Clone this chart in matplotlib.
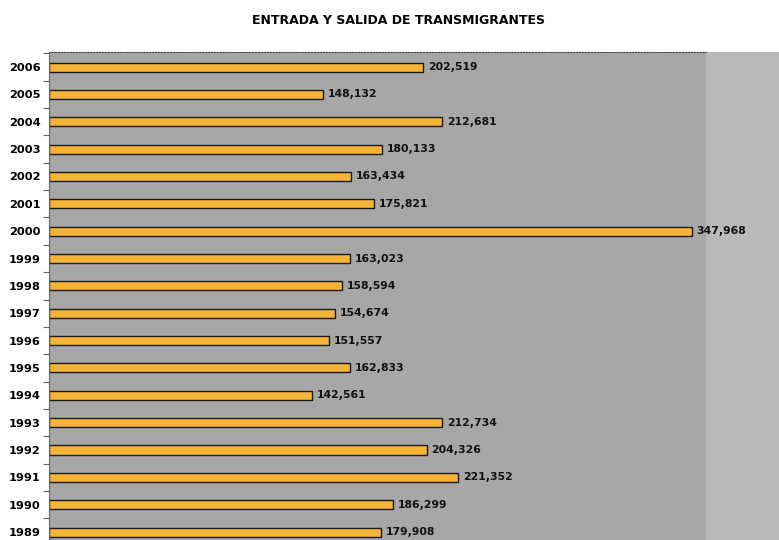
import matplotlib.pyplot as plt
import numpy as np

# datos
anios = ['2006', '2005', '2004', '2003', '2002', '2001', '2000', '1999', '1998',
         '1997', '1996', '1995', '1994', '1993', '1992', '1991', '1990', '1989']
valores = [202519, 148132, 212681, 180133, 163434, 175821, 347968, 163023, 158594,
           154674, 151557, 162833, 142561, 212734, 204326, 221352, 186299, 179908]

fig = plt.figure(figsize=(7.79, 5.40), dpi=100)
fig.patch.set_facecolor('white')

# zona gris clara a la derecha
fondo = fig.add_axes([706 / 779, -0.05, 1 - 706 / 779, (540 - 52) / 540 + 0.05])
fondo.set_facecolor('#b9b9ba')
fondo.set_xticks([])
fondo.set_yticks([])
for s in fondo.spines.values():
    s.set_visible(False)

ax = fig.add_axes([49 / 779, -0.0106, (706 - 49) / 779, (540 - 52) / 540 + 0.0106])
ax.set_facecolor('#a7a7a9')

y = np.arange(len(anios))
ax.barh(y, valores, height=0.33, color='#f6b437', edgecolor='#1a1a1a', linewidth=1.0)

for yi, v in zip(y, valores):
    ax.text(v + 2500, yi, f'{v:,}', va='center', ha='left', fontsize=7.8,
            fontweight='bold', color='#111111')

ax.set_xlim(0, 355500)
ax.set_ylim(17.5, -0.55)
ax.set_xticks([])
ax.set_yticks(y)
ax.set_yticklabels(anios, fontsize=8.2, fontweight='bold')
ax.set_yticks(np.arange(-0.5, 17.5, 1), minor=True)
ax.tick_params(axis='y', which='major', length=0, pad=6)
ax.tick_params(axis='y', which='minor', length=4, width=0.8, color='#666666')

for s in ['right', 'bottom']:
    ax.spines[s].set_visible(False)
ax.spines['left'].set_color('#666666')
ax.spines['top'].set_color('#444444')
ax.spines['top'].set_linestyle(':')

fig.text(399 / 779, 1 - 20 / 540, 'ENTRADA Y SALIDA DE TRANSMIGRANTES',
         ha='center', va='center', fontsize=9, fontweight='bold')

fig.savefig('out.png', dpi=100)
